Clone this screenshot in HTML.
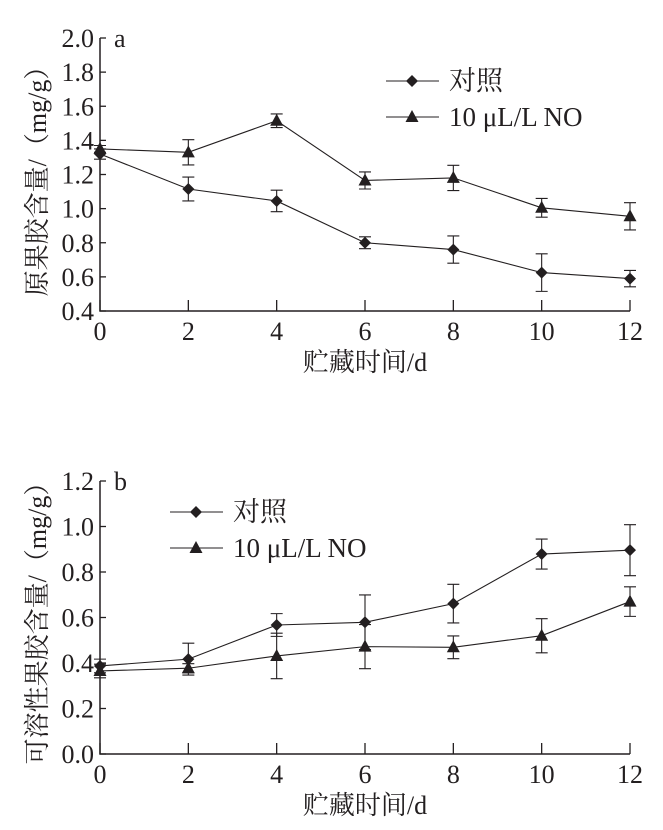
<!DOCTYPE html>
<html><head><meta charset="utf-8"><style>
html,body{margin:0;padding:0;background:#fff}
svg{display:block}
text{font-family:"Liberation Serif","Noto Serif CJK SC","Noto Sans CJK SC",serif;fill:#231f20}
</style></head><body>
<svg id="chart" width="663" height="830" viewBox="0 0 663 830" xmlns="http://www.w3.org/2000/svg"></svg>
<script>
const days = [0,2,4,6,8,10,12];
const aControl = [1.32,1.115,1.045,0.80,0.76,0.625,0.59];
const aControlErr = [0.03,0.07,0.063,0.035,0.08,0.11,0.048];
const aNO = [1.35,1.33,1.515,1.165,1.18,1.005,0.955];
const aNOErr = [0.02,0.074,0.04,0.05,0.074,0.055,0.08];
const aTicks = [0.4,0.6,0.8,1.0,1.2,1.4,1.6,1.8,2.0];
const bControl = [0.387,0.417,0.567,0.579,0.661,0.879,0.896];
const bControlErr = [0.03,0.07,0.05,0.12,0.085,0.066,0.112];
const bNO = [0.365,0.377,0.431,0.472,0.469,0.52,0.67];
const bNOErr = [0.03,0.02,0.1,0.097,0.05,0.075,0.065];
const bTicks = [0.0,0.2,0.4,0.6,0.8,1.0,1.2];
const xTicks = [0,2,4,6,8,10,12];

const svg = document.getElementById('chart');
const NS = 'http://www.w3.org/2000/svg';
function mk(tag, attrs, parent){const e=document.createElementNS(NS,tag);for(const k in attrs)e.setAttribute(k,attrs[k]);(parent||svg).appendChild(e);return e;}
function txt(s, attrs, parent){const e=mk('text',attrs,parent);e.textContent=s;return e;}

function diamond(g,x,y){const r=6;return mk('polygon',{points:`${x},${y-r} ${x+r},${y} ${x},${y+r} ${x-r},${y}`,fill:'#231f20'},g);}
function tri(g,x,y){return mk('polygon',{points:`${x},${y-7} ${x+6.5},${y+5} ${x-6.5},${y+5}`,fill:'#231f20'},g);}

function panel(cfg){
  const g = mk('g',{});
  
  
  const X0=100, X1=630;
  const xs = d => X0 + (d-0)/12*(X1-X0);
  const ys = v => cfg.yBot - (v-cfg.yMin)/(cfg.yMax-cfg.yMin)*(cfg.yBot-cfg.yTop);
  const ax = mk('path',{d:`M${X0},${cfg.yTop} V${cfg.yBot} H${X1}`,fill:'none',stroke:'#231f20','stroke-width':1.5},g);
  
  
  cfg.ticks.forEach(t=>{
    const y=ys(t);
    mk('line',{x1:X0,x2:X0+6,y1:y,y2:y,stroke:'#231f20','stroke-width':1.3},g);
    const l=txt(t.toFixed(1),{x:X0-6,y:y+9,'text-anchor':'end','font-size':26},g);
    
    
  });
  xTicks.forEach(t=>{
    const x=xs(t);
    mk('line',{x1:x,x2:x,y1:cfg.yBot,y2:cfg.yBot-11,stroke:'#231f20','stroke-width':1.3},g);
    const l=txt(String(t),{x:x,y:cfg.yBot+29,'text-anchor':'middle','font-size':26},g);
    
    
  });
  const pl=txt(cfg.letter,{x:X0+14,y:cfg.yTop+9,'font-size':26},g);
  
  
  const xt=txt('贮藏时间/d',{x:365,y:cfg.yBot+60,'text-anchor':'middle','font-size':26},g);
  
  
  const yt=txt(cfg.ytitle,{x:0,y:0,'text-anchor':'middle','font-size':26,transform:`translate(46,${cfg.ytY}) rotate(-90)`},g);
  
  
  const series=[{v:cfg.c,e:cfg.ce,m:diamond,n:'series-control'},{v:cfg.no,e:cfg.noe,m:tri,n:'series-no'}];
  series.forEach(s=>{
    const sg=mk('g',{},g);
    
    
    const pts=days.map((d,i)=>`${xs(d)},${ys(s.v[i])}`).join(' ');
    mk('polyline',{points:pts,fill:'none',stroke:'#231f20','stroke-width':1.1},sg);
    days.forEach((d,i)=>{
      const x=xs(d),y1=ys(s.v[i]+s.e[i]),y2=ys(s.v[i]-s.e[i]);
      mk('path',{d:`M${x},${y1}V${y2}M${x-6},${y1}H${x+6}M${x-6},${y2}H${x+6}`,stroke:'#231f20','stroke-width':1.1,fill:'none'},sg);
      const m=s.m(sg,x,ys(s.v[i]));
      
      
    });
  });
  const lg=mk('g',{},g);
  
  
  const L=cfg.legX, ly=cfg.legY;
  [['对照',diamond,0],['10 μL/L NO',tri,36]].forEach(([lab,fn,dy])=>{
    const e=mk('g',{},lg);
    
    
    mk('line',{x1:L,x2:L+53,y1:ly+dy,y2:ly+dy,stroke:'#231f20','stroke-width':1.1},e);
    fn(e,L+26,ly+dy);
    txt(lab,{x:L+63,y:ly+dy+9,'font-size':27},e);
  });
}
panel({name:'chart-a',letter:'a',yTop:38,yBot:311,yMin:0.4,yMax:2.0,ticks:aTicks,ytitle:'原果胶含量/（mg/g）',ytY:175,
  c:aControl,ce:aControlErr,no:aNO,noe:aNOErr,legX:386,legY:81});
panel({name:'chart-b',letter:'b',yTop:481,yBot:754,yMin:0,yMax:1.2,ticks:bTicks,ytitle:'可溶性果胶含量/（mg/g）',ytY:617,
  c:bControl,ce:bControlErr,no:bNO,noe:bNOErr,legX:170,legY:512});
</script>
</body></html>
